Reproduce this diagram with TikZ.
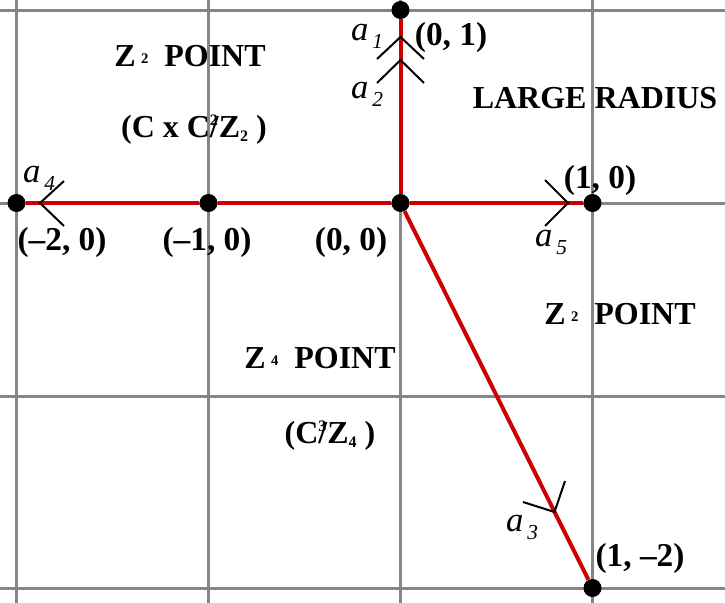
\documentclass[tikz,border=0pt]{standalone}
\usepackage{fontspec}
\setmainfont{Liberation Serif}
\begin{document}
\begin{tikzpicture}[x=0.75pt,y=-0.75pt,
  gridline/.style={draw=black!48, line width=2.25pt},
  redline/.style={draw=red!80!black, line width=3pt},
  chev/.style={draw=black, line width=1.5pt},
  dot/.style={circle, fill=black, inner sep=0pt, minimum size=13.5pt},
  lbl/.style={font=\fontsize{24}{27}\selectfont\bfseries, inner sep=0pt},
  clbl/.style={font=\fontsize{25}{28}\selectfont\bfseries, inner sep=0pt},
  alab/.style={font=\fontsize{26}{28}\selectfont\itshape, inner sep=0pt}]
\useasboundingbox (0,0) rectangle (725,603);
% grid
\foreach \x in {16.5,208.5,400.5,592.5} \draw[gridline] (\x,0) -- (\x,603);
\foreach \y in {10,203,396,588} \draw[gridline] (0,\y) -- (725,\y);
% points
\node[dot] (p01) at (400.5,10) {};
\node[dot] (p00) at (400.5,203) {};
\node[dot] (p10) at (592.5,203) {};
\node[dot] (pm10) at (208.5,203) {};
\node[dot] (pm20) at (16.5,203) {};
\node[dot] (p1m2) at (592.5,588) {};
% red lines
\draw[redline] (p00) -- (p01);
\draw[redline] (p00) -- (p10);
\draw[redline] (p00) -- (pm10);
\draw[redline] (pm10) -- (pm20);
\draw[redline] (p00) -- (p1m2);
% chevrons
\draw[chev] (377,59) -- (400.5,37) -- (424,59);
\draw[chev] (377,83) -- (400.5,60) -- (424,83);
\draw[chev] (64,181) -- (40,203) -- (64,226);
\draw[chev] (545,180) -- (568,203) -- (545,226);
\draw[chev] (523,502) -- (554.5,512) -- (565,481);
% a labels
\newcommand{\alabel}[1]{a\hspace{3pt}\raisebox{-6pt}{\fontsize{16}{16}\selectfont #1}}
\node[alab] (a1) at (367,36) {\alabel{1}};
\node[alab] (a2) at (367,94) {\alabel{2}};
\node[alab] (a4) at (39,178) {\alabel{4}};
\node[alab] (a5) at (551,242) {\alabel{5}};
\node[alab] (a3) at (522,527) {\alabel{3}};
% coordinate labels
\node[clbl] (t01) at (451,37) {(0, 1)};
\node[clbl] (t10) at (600,180) {(1, 0)};
\node[clbl] (t00) at (351,242) {(0, 0)};
\node[clbl] (tm10) at (207,242) {(--1, 0)};
\node[clbl] (tm20) at (62,242) {(--2, 0)};
\node[clbl] (t1m2) at (640,558) {(1, --2)};
% region labels
\newcommand{\smallidx}[1]{\raisebox{2pt}{\fontsize{11}{11}\selectfont #1}}
\node[lbl] (large) at (595,98) {LARGE RADIUS};
\node[lbl] (z2a) at (190,56) {Z\,\smallidx{2}\ \ POINT};
\node[lbl] (z2b) at (194,130) {(C x C\rlap{\raisebox{9pt}{\fontsize{12}{12}\selectfont 2}}/Z\raisebox{-3pt}{\fontsize{12}{12}\selectfont 2}\ )};
\node[lbl] (z2c) at (620,314) {Z\,\smallidx{2}\ \ POINT};
\node[lbl] (z4a) at (320,358) {Z\,\smallidx{4}\ \ POINT};
\node[lbl] (z4b) at (330,436) {(C\rlap{\raisebox{9pt}{\fontsize{12}{12}\selectfont 3}}/Z\raisebox{-3pt}{\fontsize{12}{12}\selectfont 4}\ )};
\end{tikzpicture}
\end{document}
